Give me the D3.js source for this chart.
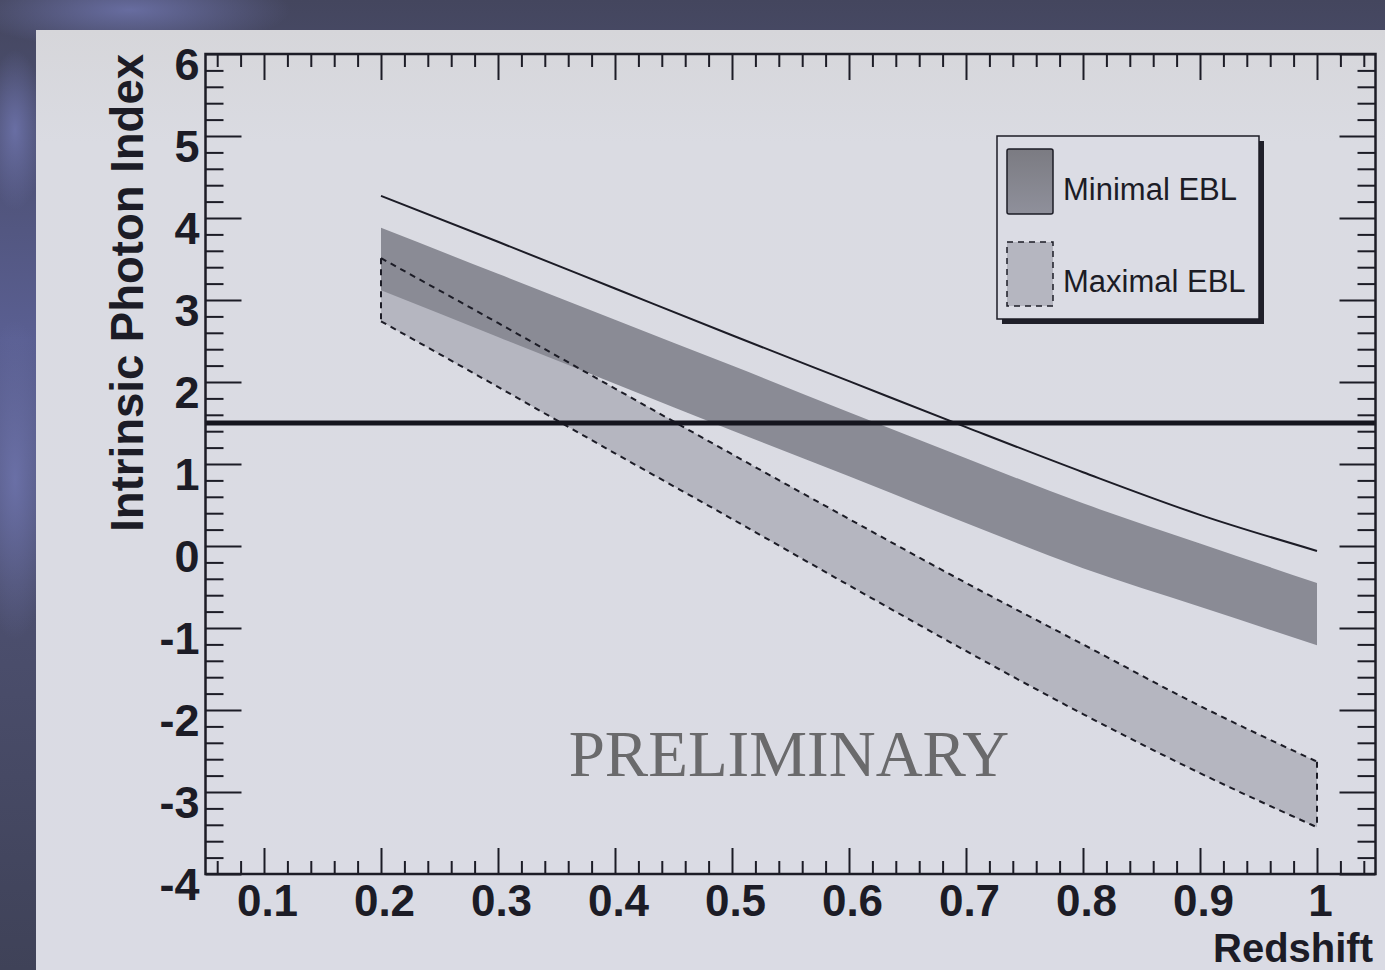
<!DOCTYPE html>
<html>
<head>
<meta charset="utf-8">
<script src="https://cdn.jsdelivr.net/npm/d3@7"></script>
<style>
  html, body { margin: 0; padding: 0; background: #4a4d68; }
  svg { display: block; }
</style>
</head>
<body>
<svg id="chart" width="1385" height="970"></svg>
<script>
// ---------- data ----------
const redshift = [0.2, 0.3, 0.4, 0.5, 0.6, 0.7, 0.8, 0.9, 1.0];
const upperLimitLine = [4.27, 3.71, 3.14, 2.57, 2.01, 1.45, 0.90, 0.38, -0.06];
const minimalEBLHigh = [3.88, 3.32, 2.76, 2.20, 1.63, 1.07, 0.52, 0.03, -0.45];
const minimalEBLLow  = [3.12, 2.55, 1.98, 1.41, 0.85, 0.28, -0.27, -0.74, -1.21];
const maximalEBLHigh = [3.51, 2.72, 1.92, 1.12, 0.33, -0.45, -1.20, -1.95, -2.63];
const maximalEBLLow  = [2.74, 1.94, 1.13, 0.33, -0.48, -1.28, -2.05, -2.77, -3.43];
const referenceIndex = 1.5;
const xTickValues = [0.1, 0.2, 0.3, 0.4, 0.5, 0.6, 0.7, 0.8, 0.9, 1.0];
const xTickLabels = ["0.1", "0.2", "0.3", "0.4", "0.5", "0.6", "0.7", "0.8", "0.9", "1"];
const yTickValues = [-4, -3, -2, -1, 0, 1, 2, 3, 4, 5, 6];
const yTickLabels = ["-4", "-3", "-2", "-1", "0", "1", "2", "3", "4", "5", "6"];
const legendLabels = ["Minimal EBL", "Maximal EBL"];
const xTitle = "Redshift";
const yTitle = "Intrinsic Photon Index";
const watermark = "PRELIMINARY";

// ---------- layout ----------
const svg = d3.select("#chart");
const W = 1385, H = 970;
const pL = 205.5, pR = 1375.5, pT = 54, pB = 874;
const x = d3.scaleLinear().domain([0.05, 1.05]).range([pL, pR]);
const y = d3.scaleLinear().domain([-4, 6]).range([pB, pT]);
const ink = "#1c1c26";
const FONT = "'Liberation Sans', Arial, Helvetica, sans-serif";

const defs = svg.append("defs");
const bg = defs.append("linearGradient").attr("id", "bg").attr("x1", 0).attr("y1", 0).attr("x2", 0).attr("y2", 1);
bg.append("stop").attr("offset", "0").attr("stop-color", "#44465e");
bg.append("stop").attr("offset", "0.35").attr("stop-color", "#5a5f92");
bg.append("stop").attr("offset", "0.6").attr("stop-color", "#4d5070");
bg.append("stop").attr("offset", "1").attr("stop-color", "#3f4258");
const blob = defs.append("radialGradient").attr("id", "blob");
blob.append("stop").attr("offset", "0").attr("stop-color", "#7076b0").attr("stop-opacity", 0.8);
blob.append("stop").attr("offset", "1").attr("stop-color", "#7076b0").attr("stop-opacity", 0);
const panel = defs.append("linearGradient").attr("id", "panel").attr("x1", 0).attr("y1", 0).attr("x2", 0).attr("y2", 1);
panel.append("stop").attr("offset", "0").attr("stop-color", "#d6d6da");
panel.append("stop").attr("offset", "0.12").attr("stop-color", "#dadbe2");
panel.append("stop").attr("offset", "1").attr("stop-color", "#dadbe4");
const sw = defs.append("linearGradient").attr("id", "sw").attr("x1", 0).attr("y1", 0).attr("x2", 0).attr("y2", 1);
sw.append("stop").attr("offset", "0").attr("stop-color", "#7b7b82");
sw.append("stop").attr("offset", "1").attr("stop-color", "#8f909b");

svg.append("rect").attr("width", W).attr("height", H).attr("fill", "url(#bg)");
svg.append("ellipse").attr("cx", 130).attr("cy", 10).attr("rx", 160).attr("ry", 40).attr("fill", "url(#blob)");
svg.append("ellipse").attr("cx", 15).attr("cy", 480).attr("rx", 40).attr("ry", 160).attr("fill", "url(#blob)");
svg.append("ellipse").attr("cx", 15).attr("cy", 130).attr("rx", 30).attr("ry", 80).attr("fill", "url(#blob)");
svg.append("rect").attr("x", 36).attr("y", 30).attr("width", W - 36).attr("height", H - 30).attr("fill", "url(#panel)");

// ---------- bands ----------
const rows = redshift.map((z, i) => ({
  z, line: upperLimitLine[i],
  minHi: minimalEBLHigh[i], minLo: minimalEBLLow[i],
  maxHi: maximalEBLHigh[i], maxLo: maximalEBLLow[i]
}));
const curve = d3.curveMonotoneX;
const areaMax = d3.area().x(d => x(d.z)).y0(d => y(d.maxLo)).y1(d => y(d.maxHi)).curve(curve);
const areaMin = d3.area().x(d => x(d.z)).y0(d => y(d.minLo)).y1(d => y(d.minHi)).curve(curve);

svg.append("path").datum(rows).attr("d", areaMax).attr("fill", "#b5b6c0");
svg.append("path").datum(rows).attr("d", areaMin).attr("fill", "#8a8b95");

const dash = "6,5";
const lineGen = key => d3.line().x(d => x(d.z)).y(d => y(d[key])).curve(curve);
["maxHi", "maxLo"].forEach(k => {
  svg.append("path").datum(rows).attr("d", lineGen(k))
    .attr("fill", "none").attr("stroke", ink).attr("stroke-width", 2).attr("stroke-dasharray", dash);
});
[rows[0], rows[rows.length - 1]].forEach(d => {
  svg.append("line")
    .attr("x1", x(d.z)).attr("x2", x(d.z))
    .attr("y1", y(d.maxHi)).attr("y2", y(d.maxLo))
    .attr("stroke", ink).attr("stroke-width", 2).attr("stroke-dasharray", dash);
});

svg.append("path").datum(rows).attr("d", lineGen("line"))
  .attr("fill", "none").attr("stroke", ink).attr("stroke-width", 2);

svg.append("line")
  .attr("x1", pL).attr("x2", pR)
  .attr("y1", y(referenceIndex)).attr("y2", y(referenceIndex))
  .attr("stroke", "#15151e").attr("stroke-width", 5);

// ---------- axes ----------
const xMinor = d3.range(0.06, 1.05, 0.02).map(v => +v.toFixed(2)).filter(v => Math.abs(Math.round(v * 10) - v * 10) > 1e-6);
const yMinor = d3.range(-4, 6.001, 0.2).map(v => +v.toFixed(2)).filter(v => Math.abs(v - Math.round(v)) > 1e-6);

function styleAxis(g) {
  g.select(".domain").remove();
  g.selectAll(".tick line").attr("stroke", ink).attr("stroke-width", 2);
}
const fmtX = d => xTickLabels[xTickValues.indexOf(d)];
const fmtY = d => yTickLabels[yTickValues.indexOf(d)];

svg.append("g").attr("transform", `translate(0,${pB})`)
  .call(d3.axisBottom(x).tickValues(xTickValues).tickSize(-26).tickPadding(0).tickFormat(fmtX))
  .call(styleAxis)
  .call(g => g.selectAll(".tick text")
    .attr("y", 41.5).attr("dy", 0).attr("dx", 3)
    .attr("font-family", FONT).attr("font-weight", "bold").attr("font-size", 44).attr("fill", ink));
svg.append("g").attr("transform", `translate(0,${pB})`)
  .call(d3.axisBottom(x).tickValues(xMinor).tickSize(-13).tickFormat(""))
  .call(styleAxis);
svg.append("g").attr("transform", `translate(0,${pT})`)
  .call(d3.axisTop(x).tickValues(xTickValues).tickSize(-26).tickFormat(""))
  .call(styleAxis);
svg.append("g").attr("transform", `translate(0,${pT})`)
  .call(d3.axisTop(x).tickValues(xMinor).tickSize(-13).tickFormat(""))
  .call(styleAxis);

svg.append("g").attr("transform", `translate(${pL},0)`)
  .call(d3.axisLeft(y).tickValues(yTickValues).tickSize(-36).tickPadding(6).tickFormat(fmtY))
  .call(styleAxis)
  .call(g => g.selectAll(".tick text")
    .attr("dy", 25).attr("font-family", FONT).attr("font-weight", "bold")
    .attr("font-size", 45).attr("fill", ink));
svg.append("g").attr("transform", `translate(${pL},0)`)
  .call(d3.axisLeft(y).tickValues(yMinor).tickSize(-18).tickFormat(""))
  .call(styleAxis);
svg.append("g").attr("transform", `translate(${pR},0)`)
  .call(d3.axisRight(y).tickValues(yTickValues).tickSize(-36).tickFormat(""))
  .call(styleAxis);
svg.append("g").attr("transform", `translate(${pR},0)`)
  .call(d3.axisRight(y).tickValues(yMinor).tickSize(-18).tickFormat(""))
  .call(styleAxis);

svg.append("rect").attr("x", pL).attr("y", pT).attr("width", pR - pL).attr("height", pB - pT)
  .attr("fill", "none").attr("stroke", ink).attr("stroke-width", 2.5);

svg.append("text").text(xTitle)
  .attr("x", 1373).attr("y", 961.5).attr("text-anchor", "end")
  .attr("font-family", FONT).attr("font-weight", "bold").attr("font-size", 40).attr("fill", ink);
svg.append("text").text(yTitle)
  .attr("transform", `translate(143,${pT}) rotate(-90)`).attr("text-anchor", "end")
  .attr("font-family", FONT).attr("font-weight", "bold").attr("font-size", 45.5).attr("fill", ink);

svg.append("text").text(watermark)
  .attr("x", 789).attr("y", 776).attr("text-anchor", "middle")
  .attr("font-family", "'Liberation Serif', 'Times New Roman', serif").attr("font-size", 65)
  .attr("fill", "#6a6a6c");

// ---------- legend ----------
const lg = svg.append("g");
lg.append("rect").attr("x", 1002).attr("y", 141).attr("width", 262).attr("height", 183).attr("fill", "#20202a");
lg.append("rect").attr("x", 997).attr("y", 136).attr("width", 262).attr("height", 183)
  .attr("fill", "#dbdce4").attr("stroke", ink).attr("stroke-width", 1.5);
lg.append("rect").attr("x", 1007).attr("y", 149).attr("width", 46).attr("height", 65).attr("rx", 2)
  .attr("fill", "url(#sw)").attr("stroke", ink).attr("stroke-width", 1.5);
lg.append("rect").attr("x", 1007).attr("y", 242).attr("width", 46).attr("height", 64)
  .attr("fill", "#b5b6c0").attr("stroke", ink).attr("stroke-width", 1.5).attr("stroke-dasharray", dash);
lg.selectAll("text.lab").data(legendLabels).join("text").attr("class", "lab")
  .attr("x", 1063).attr("y", (d, i) => 200 + i * 92).text(d => d)
  .attr("font-family", FONT).attr("font-size", 31).attr("fill", ink);
</script>
</body>
</html>
